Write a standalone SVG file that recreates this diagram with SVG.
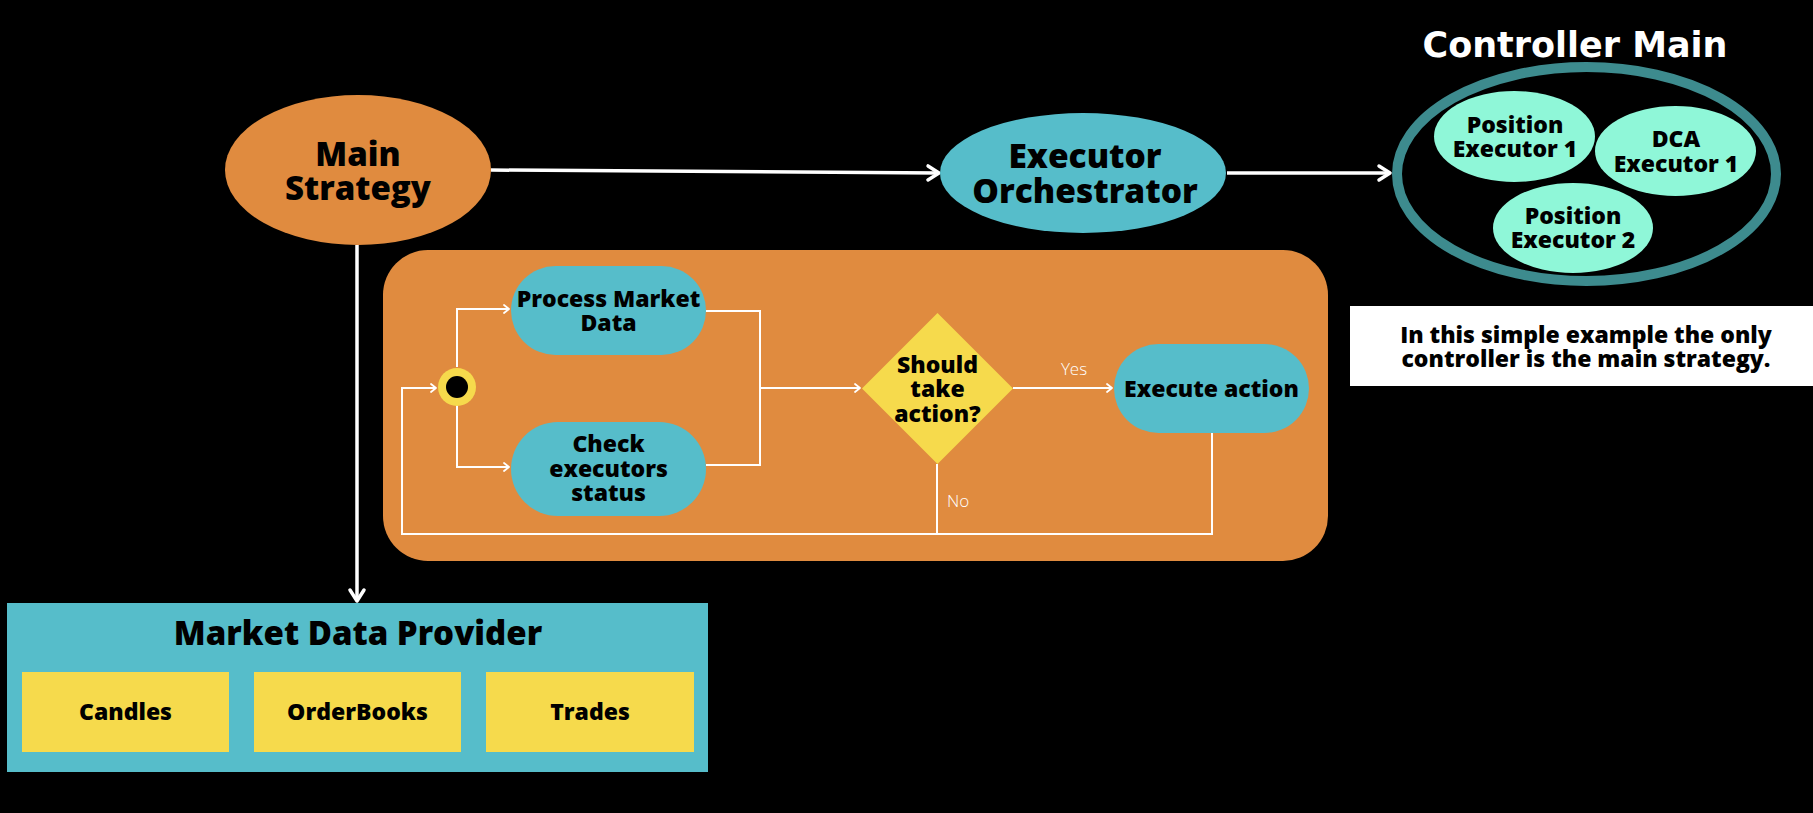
<svg xmlns="http://www.w3.org/2000/svg" width="1813" height="813" viewBox="0 0 1813 813">
  <style>
    .t { font-family: "Open Sans", "Liberation Sans", sans-serif; font-weight: 800; fill: #000; text-anchor: middle; }
    .lbl { font-family: "Open Sans", "Liberation Sans", sans-serif; font-weight: 300; fill: #fff; font-size: 17px; }
    .orange { fill: #e08b3f; }
    .teal { fill: #56bdca; }
    .yellow { fill: #f6da4c; }
    .mint { fill: #8ff7d8; }
    .main { fill: none; stroke: #fff; stroke-width: 3.5; }
    .flow { fill: none; stroke: #fff; stroke-width: 2; }
  </style>
  <defs>
    <marker id="arrowL" markerUnits="userSpaceOnUse" markerWidth="20" markerHeight="22" viewBox="-4 -11 20 22" refX="11" refY="0" orient="auto">
      <path d="M0,-7 L11,0 L0,7" fill="none" stroke="#fff" stroke-width="3.5" stroke-linecap="round" stroke-linejoin="round"/>
    </marker>
    <marker id="arrowS" markerUnits="userSpaceOnUse" markerWidth="10" markerHeight="12" viewBox="-2 -6 10 12" refX="5" refY="0" orient="auto">
      <path d="M0,-4 L5,0 L0,4" fill="none" stroke="#fff" stroke-width="1.8" stroke-linecap="round" stroke-linejoin="round"/>
    </marker>
  </defs>
  <rect x="0" y="0" width="1813" height="813" fill="#000"/>

  <g id="loop-container">
    <rect x="383" y="250" width="945" height="311" rx="45" class="orange"/>
  </g>

  <g id="connectors">
    <path class="main" d="M491,170 L939,173" marker-end="url(#arrowL)"/>
    <path class="main" d="M1227,173 L1390,173" marker-end="url(#arrowL)"/>
    <path class="main" d="M357,245 L357,601" marker-end="url(#arrowL)"/>
    <path class="flow" d="M457,367 V309 H509" marker-end="url(#arrowS)"/>
    <path class="flow" d="M457,405 V467 H509" marker-end="url(#arrowS)"/>
    <path class="flow" d="M706,311 H760 V465 H706"/>
    <path class="flow" d="M760,388 H860" marker-end="url(#arrowS)"/>
    <path class="flow" d="M1013,388 H1112" marker-end="url(#arrowS)"/>
    <path class="flow" d="M937,464 V534"/>
    <path class="flow" d="M1212,433 V534 H402 V388 H436" marker-end="url(#arrowS)"/>
    <text class="lbl" x="1074" y="375" text-anchor="middle">Yes</text>
    <text class="lbl" x="947" y="507">No</text>
  </g>

  <g id="main-strategy">
    <ellipse cx="358" cy="170" rx="133" ry="75" class="orange"/>
    <text class="t" font-size="33" x="358" y="166">Main</text>
    <text class="t" font-size="33" x="358" y="200">Strategy</text>
  </g>

  <g id="executor-orchestrator">
    <ellipse cx="1083" cy="173" rx="143" ry="60" class="teal"/>
    <text class="t" font-size="33.5" x="1085" y="168">Executor</text>
    <text class="t" font-size="33.5" x="1085" y="203">Orchestrator</text>
  </g>

  <g id="controller-main">
    <text x="1575" y="57" font-family="DejaVu Sans, sans-serif" font-weight="700" font-size="35" fill="#fff" text-anchor="middle" textLength="305" lengthAdjust="spacingAndGlyphs">Controller Main</text>
    <ellipse cx="1586.5" cy="174" rx="189.5" ry="107" fill="none" stroke="#3d8b8e" stroke-width="10"/>
  </g>

  <g id="position-executor-1">
    <ellipse cx="1514.5" cy="136.5" rx="80.5" ry="45.5" class="mint"/>
    <text class="t" font-size="23" x="1515" y="133">Position</text>
    <text class="t" font-size="23" x="1515" y="157">Executor 1</text>
  </g>

  <g id="dca-executor-1">
    <ellipse cx="1675.5" cy="151" rx="80.5" ry="45" class="mint"/>
    <text class="t" font-size="23" x="1676" y="147">DCA</text>
    <text class="t" font-size="23" x="1676" y="172">Executor 1</text>
  </g>

  <g id="position-executor-2">
    <ellipse cx="1573" cy="228" rx="80" ry="45" class="mint"/>
    <text class="t" font-size="23" x="1573" y="224">Position</text>
    <text class="t" font-size="23" x="1573" y="248">Executor 2</text>
  </g>

  <g id="note">
    <rect x="1350" y="306" width="463" height="80" fill="#fff"/>
    <text class="t" font-size="23" x="1586" y="343">In this simple example the only</text>
    <text class="t" font-size="23" x="1586" y="367">controller is the main strategy.</text>
  </g>

  <g id="start">
    <circle cx="457" cy="387" r="19" class="yellow"/>
    <circle cx="457" cy="387" r="11" fill="#000"/>
  </g>

  <g id="process-market-data">
    <rect x="511" y="266" width="195" height="89" rx="44.5" class="teal"/>
    <text class="t" font-size="23" x="608.5" y="307">Process Market</text>
    <text class="t" font-size="23" x="608.5" y="331">Data</text>
  </g>

  <g id="check-executors-status">
    <rect x="511" y="422" width="195" height="94" rx="47" class="teal"/>
    <text class="t" font-size="23" x="608.5" y="452">Check</text>
    <text class="t" font-size="23" x="608.5" y="477">executors</text>
    <text class="t" font-size="23" x="608.5" y="501">status</text>
  </g>

  <g id="should-take-action">
    <polygon points="937.5,313 1013,388.5 937.5,464 862,388.5" class="yellow"/>
    <text class="t" font-size="23" x="937.5" y="373">Should</text>
    <text class="t" font-size="23" x="937.5" y="397">take</text>
    <text class="t" font-size="23" x="937.5" y="422">action?</text>
  </g>

  <g id="execute-action">
    <rect x="1114" y="344" width="195" height="89" rx="44.5" class="teal"/>
    <text class="t" font-size="23" x="1211.5" y="397">Execute action</text>
  </g>

  <g id="market-data-provider">
    <rect x="7" y="603" width="701" height="169" class="teal"/>
    <text class="t" font-size="33" x="358" y="645">Market Data Provider</text>
  </g>

  <g id="candles">
    <rect x="22" y="672" width="207" height="80" class="yellow"/>
    <text class="t" font-size="23" x="125.5" y="720">Candles</text>
  </g>

  <g id="orderbooks">
    <rect x="254" y="672" width="207" height="80" class="yellow"/>
    <text class="t" font-size="23" x="357.5" y="720">OrderBooks</text>
  </g>

  <g id="trades">
    <rect x="486" y="672" width="208" height="80" class="yellow"/>
    <text class="t" font-size="23" x="590" y="720">Trades</text>
  </g>
</svg>
